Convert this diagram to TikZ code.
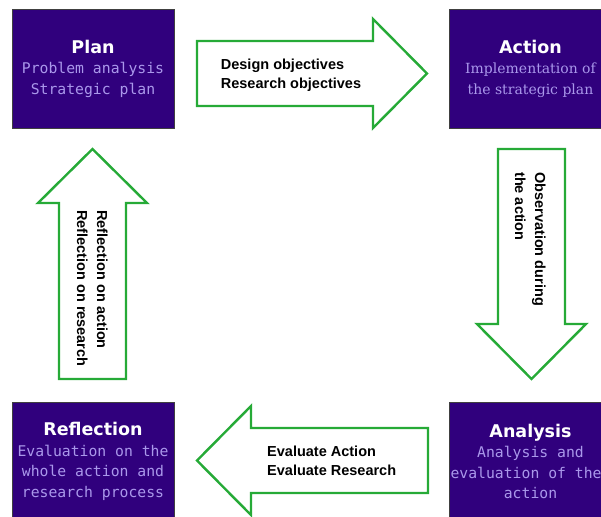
\documentclass[tikz,border=0pt]{standalone}
\usepackage{fontspec}
\setmainfont{DejaVu Sans}
\newfontfamily\headfont{DejaVu Sans}
\newfontfamily\boxmono{DejaVu Sans Mono}
\newfontfamily\boxserif{DejaVu Serif}
\newfontfamily\arialfont{Liberation Sans}
\definecolor{boxfill}{RGB}{48,0,125}
\definecolor{subcol}{RGB}{170,152,235}
\definecolor{arrowgreen}{RGB}{38,170,55}
\newcommand\boxhead[1]{{\color{white}\headfont\bfseries\fontsize{17.5}{20.5}\selectfont #1}}
\begin{document}
\begin{tikzpicture}[x=1pt,y=-1pt,
  box/.style={draw=black!75, line width=0.8pt, fill=boxfill, minimum width=162pt,
    minimum height=119pt, inner sep=0pt, align=center, text=subcol},
  monotext/.style={font=\boxmono\fontsize{14.75}{20.5}\selectfont},
  seriftext/.style={font=\boxserif\fontsize{14}{20.5}\selectfont},
  garrow/.style={draw=arrowgreen, line width=2.4pt, fill=white, line join=miter},
  lbl/.style={font=\arialfont\bfseries\fontsize{14.5}{19}\selectfont, inner sep=0pt, text=black}]
\useasboundingbox (0,0) rectangle (601,516);
\clip (0,0) rectangle (601,516);
% boxes
\node[box, monotext] (plan) at (93,68.5) {\boxhead{Plan}\\Problem analysis\\Strategic plan};
\node[box, seriftext] (action) at (530.5,68.5) {\boxhead{Action}\\Implementation of\\the strategic plan};
\node[box, monotext] (reflection) at (93,461.5) {\boxhead{Reflection}\\Evaluation on the\\whole action and\\research process};
\node[box, monotext] (analysis) at (530.5,461.5) {\boxhead{Analysis}\\Analysis and\\evaluation of the\hphantom{x}\\action};
% block arrows
\draw[garrow] (197,41) -- (373,41) -- (373,19) -- (427,73.5) -- (373,128) -- (373,106) -- (197,106) -- cycle;
\draw[garrow] (498,149) -- (565,149) -- (565,324) -- (586,324) -- (531.5,379) -- (477,324) -- (498,324) -- cycle;
\draw[garrow] (428,428) -- (251,428) -- (251,406) -- (197,460.5) -- (251,515) -- (251,493) -- (428,493) -- cycle;
\draw[garrow] (59,379) -- (126,379) -- (126,203) -- (147,203) -- (92.5,149) -- (38,203) -- (59,203) -- cycle;
% labels
\node[lbl, anchor=base west] (design) at (220.7,69.3) {Design objectives};
\node[lbl, anchor=base west] (research) at (220.7,88.3) {Research objectives};
\node[lbl, anchor=base west, rotate=-90] (obs1) at (535,172) {Observation during};
\node[lbl, anchor=base west, rotate=-90] (obs2) at (515,172) {the action};
\node[lbl, anchor=base west] (evala) at (267,456.7) {Evaluate Action};
\node[lbl, anchor=base west] (evalr) at (267,475.3) {Evaluate Research};
\node[lbl, anchor=base west, rotate=-90] (refa) at (97,210) {Reflection on action};
\node[lbl, anchor=base west, rotate=-90] (refr) at (77,210) {Reflection on research};
\end{tikzpicture}
\end{document}
